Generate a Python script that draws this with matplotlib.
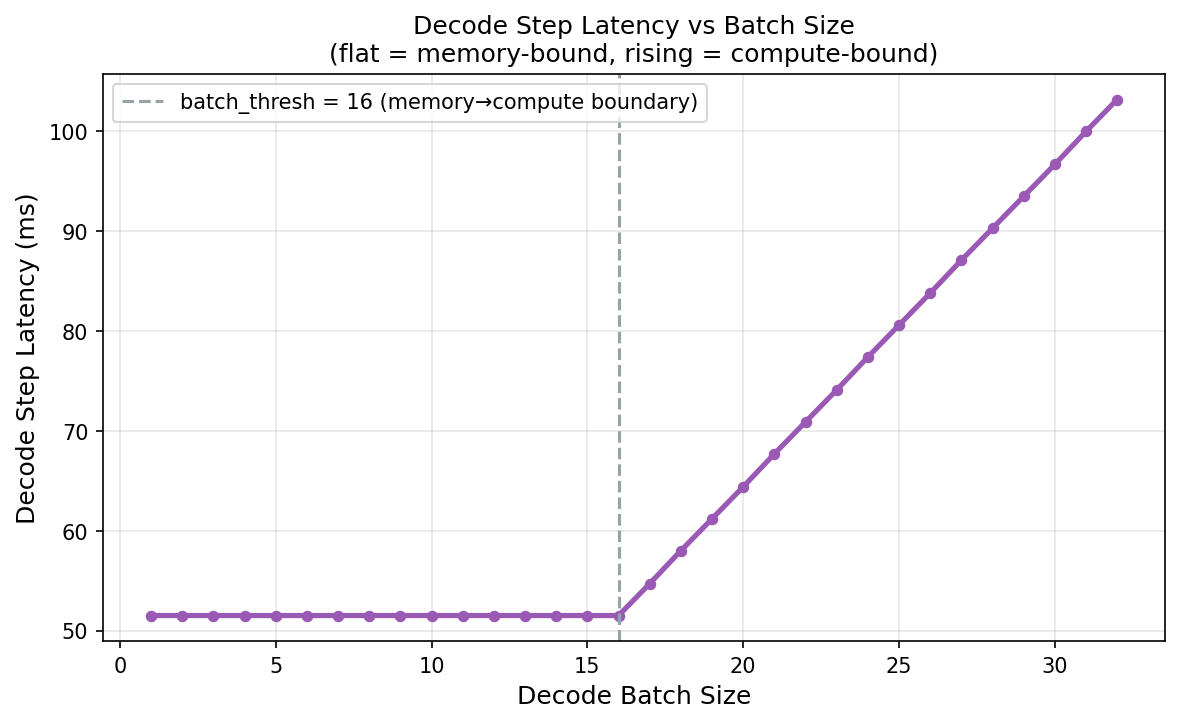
import matplotlib
matplotlib.use("Agg")
import matplotlib.pyplot as plt

# data
batch_sizes = list(range(1, 33))
latency_ms = [51.5] * 16 + [54.7, 58.0, 61.2, 64.4, 67.7, 70.9, 74.1, 77.4,
                            80.6, 83.8, 87.1, 90.3, 93.5, 96.7, 100.0, 103.2]
batch_thresh = 16

fig, ax = plt.subplots(figsize=(7.88, 4.833), dpi=150)
fig.subplots_adjust(left=0.087, right=0.986, top=0.897, bottom=0.114)

ax.plot(batch_sizes, latency_ms, color='#9b59b6', linewidth=2.5,
        marker='o', markersize=4.5)
ax.axvline(batch_thresh, color='#95a5a6', linestyle='--', linewidth=1.5,
           label=f'batch_thresh = {batch_thresh} (memory\u2192compute boundary)')

ax.set_title("Decode Step Latency vs Batch Size\n(flat = memory-bound, rising = compute-bound)",
             fontsize=12)
ax.set_xlabel("Decode Batch Size", fontsize=12)
ax.set_ylabel("Decode Step Latency (ms)", fontsize=12)
ax.grid(True, alpha=0.3)
ax.legend(loc='upper left', fontsize=10)

plt.savefig('out.png', dpi=150)
